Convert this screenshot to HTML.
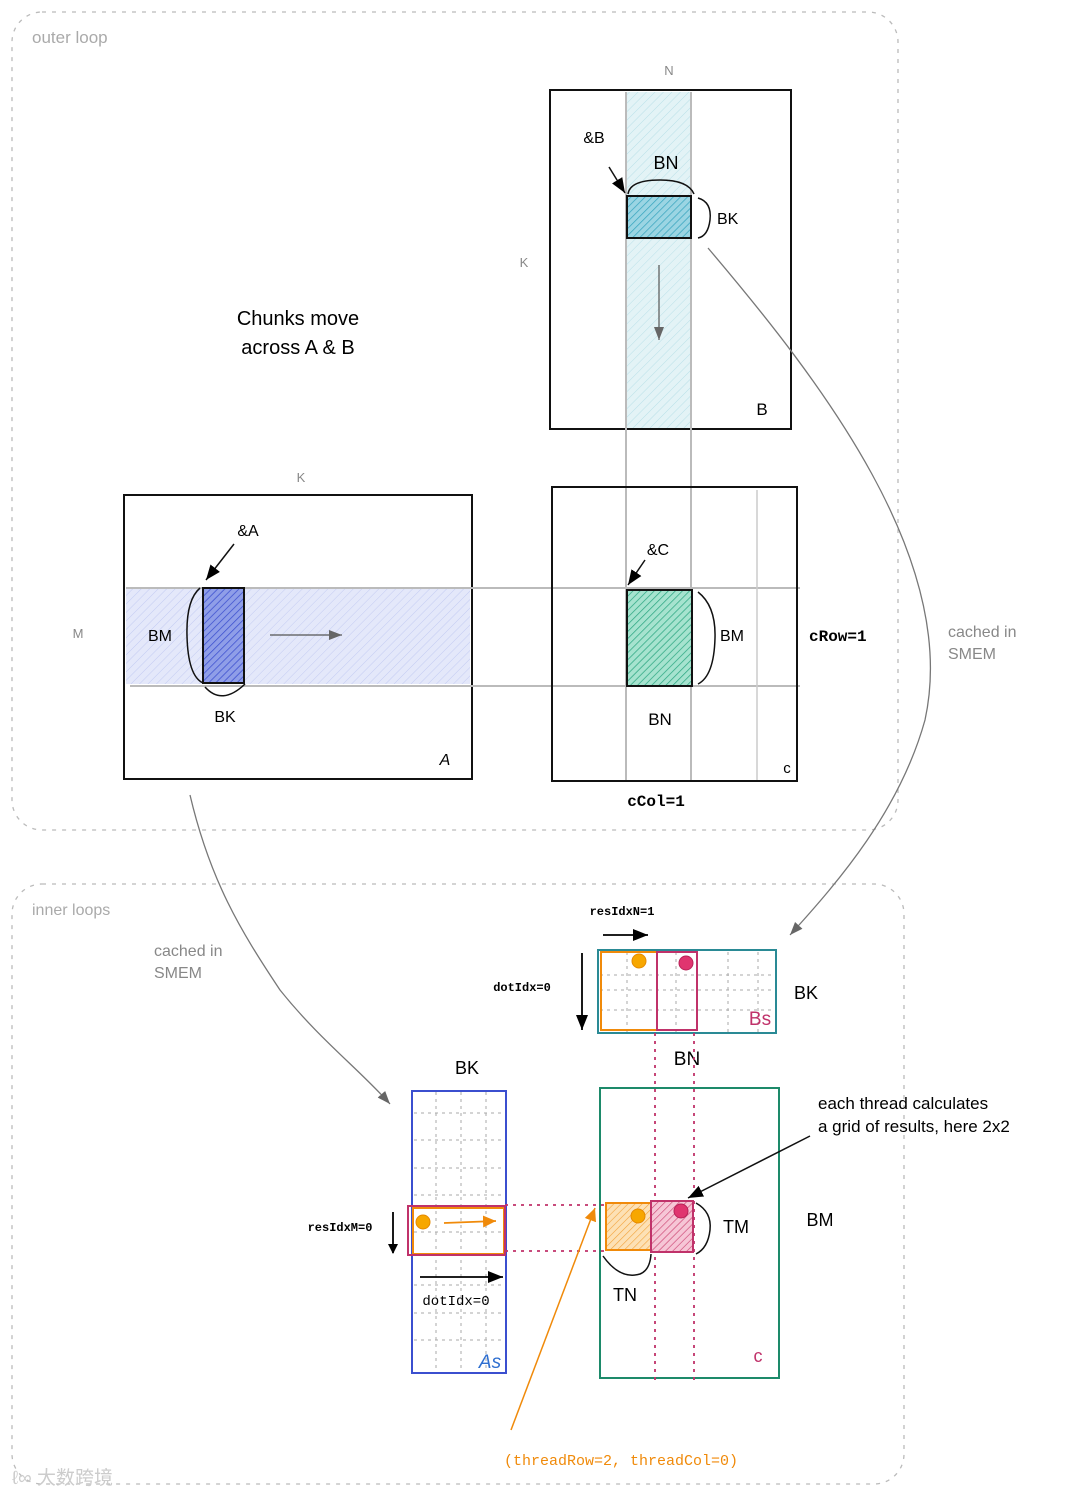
<!DOCTYPE html>
<html><head><meta charset="utf-8"><style>
html,body{margin:0;padding:0;background:#fff;}
svg{display:block;}
.h{font-family:"Liberation Sans","DejaVu Sans",sans-serif;}
.m{font-family:"Liberation Mono","DejaVu Sans Mono",monospace;}
</style></head><body>
<svg width="1080" height="1497" viewBox="0 0 1080 1497" xmlns="http://www.w3.org/2000/svg">
<defs>
<pattern id="hb" width="6" height="6" patternUnits="userSpaceOnUse" patternTransform="rotate(45)"><rect width="6" height="6" fill="#e3f3f6"/><line x1="0" y1="0" x2="0" y2="6" stroke="#b9e0e8" stroke-width="1"/></pattern>
<pattern id="ha" width="6" height="6" patternUnits="userSpaceOnUse" patternTransform="rotate(45)"><rect width="6" height="6" fill="#e4e8fa"/><line x1="0" y1="0" x2="0" y2="6" stroke="#c3cbf2" stroke-width="1"/></pattern>
<pattern id="hbc" width="5" height="5" patternUnits="userSpaceOnUse" patternTransform="rotate(45)"><rect width="5" height="5" fill="#9bd5e3"/><line x1="0" y1="0" x2="0" y2="5" stroke="#3aa6bf" stroke-width="1.5"/></pattern>
<pattern id="hac" width="5" height="5" patternUnits="userSpaceOnUse" patternTransform="rotate(45)"><rect width="5" height="5" fill="#8f9ee8"/><line x1="0" y1="0" x2="0" y2="5" stroke="#3b4fcf" stroke-width="1.5"/></pattern>
<pattern id="hcc" width="5" height="5" patternUnits="userSpaceOnUse" patternTransform="rotate(45)"><rect width="5" height="5" fill="#a6e3cf"/><line x1="0" y1="0" x2="0" y2="5" stroke="#2fa883" stroke-width="1.5"/></pattern>
<pattern id="ho" width="5" height="5" patternUnits="userSpaceOnUse" patternTransform="rotate(45)"><rect width="5" height="5" fill="#fde1b5"/><line x1="0" y1="0" x2="0" y2="5" stroke="#f2a23a" stroke-width="1.2"/></pattern>
<pattern id="hr" width="5" height="5" patternUnits="userSpaceOnUse" patternTransform="rotate(45)"><rect width="5" height="5" fill="#f6c6d6"/><line x1="0" y1="0" x2="0" y2="5" stroke="#c93c6c" stroke-width="1.2"/></pattern>
<marker id="ak" markerWidth="10" markerHeight="10" refX="9" refY="5" orient="auto" markerUnits="userSpaceOnUse"><path d="M0,0 L10,5 L0,10 Z" fill="#000"/></marker>
<marker id="ag" markerWidth="14" markerHeight="14" refX="13" refY="7" orient="auto" markerUnits="userSpaceOnUse"><path d="M0,2 L13,7 L0,12 Z" fill="#666"/></marker>
<marker id="ao" markerWidth="14" markerHeight="14" refX="13" refY="7" orient="auto" markerUnits="userSpaceOnUse"><path d="M0,1 L13,7 L0,13 Z" fill="#f08a0a"/></marker>
<marker id="ab" markerWidth="16" markerHeight="16" refX="15" refY="8" orient="auto" markerUnits="userSpaceOnUse"><path d="M0,2 L15,8 L0,14 Z" fill="#000"/></marker>
</defs>

<!-- loop frames -->
<rect x="12" y="12" width="886" height="818" rx="30" fill="none" stroke="#bbb" stroke-width="1.3" stroke-dasharray="4,6"/>
<rect x="12" y="884" width="892" height="600" rx="30" fill="none" stroke="#bbb" stroke-width="1.3" stroke-dasharray="4,6"/>
<text x="32" y="43" class="h" font-size="17" fill="#aaa">outer loop</text>
<text x="32" y="915" class="h" font-size="16" fill="#aaa">inner loops</text>

<text x="298" y="325" class="h" font-size="20" text-anchor="middle">Chunks move</text>
<text x="298" y="354" class="h" font-size="20" text-anchor="middle">across A &amp; B</text>

<!-- B matrix -->
<rect x="626" y="92" width="65" height="336" fill="url(#hb)"/>
<rect x="550" y="90" width="241" height="339" fill="none" stroke="#111" stroke-width="2"/>
<line x1="626" y1="92" x2="626" y2="782" stroke="#bbb" stroke-width="2"/>
<line x1="691" y1="92" x2="691" y2="782" stroke="#bbb" stroke-width="2"/>
<rect x="627" y="196" width="64" height="42" fill="url(#hbc)" stroke="#111" stroke-width="2"/>
<path d="M628,194 Q630,180 660,180 Q688,180 694,194" fill="none" stroke="#111" stroke-width="1.5"/>
<path d="M698,198 Q712,202 710,220 Q708,236 698,238" fill="none" stroke="#111" stroke-width="1.5"/>
<line x1="609" y1="167" x2="625" y2="193" stroke="#111" stroke-width="1.5" marker-end="url(#ab)"/>
<line x1="659" y1="265" x2="659" y2="340" stroke="#555" stroke-width="1.2" marker-end="url(#ag)"/>
<text x="594" y="143" class="h" font-size="16" text-anchor="middle">&amp;B</text>
<text x="666" y="169" class="h" font-size="18" text-anchor="middle">BN</text>
<text x="717" y="224" class="h" font-size="16">BK</text>
<text x="762" y="415" class="h" font-size="17" text-anchor="middle">B</text>
<text x="669" y="75" class="h" font-size="13" fill="#888" text-anchor="middle">N</text>
<text x="524" y="267" class="h" font-size="13" fill="#888" text-anchor="middle">K</text>

<!-- A matrix -->
<rect x="126" y="588" width="344" height="96" fill="url(#ha)"/>
<rect x="124" y="495" width="348" height="284" fill="none" stroke="#111" stroke-width="2"/>
<line x1="126" y1="588" x2="800" y2="588" stroke="#bbb" stroke-width="2"/>
<line x1="130" y1="686" x2="800" y2="686" stroke="#bbb" stroke-width="2"/>
<rect x="203" y="588" width="41" height="95" fill="url(#hac)" stroke="#111" stroke-width="2"/>
<path d="M200,588 Q186,600 187,636 Q188,676 203,683" fill="none" stroke="#111" stroke-width="1.5"/>
<path d="M205,687 Q222,706 245,684" fill="none" stroke="#111" stroke-width="1.5"/>
<line x1="234" y1="544" x2="206" y2="580" stroke="#111" stroke-width="1.5" marker-end="url(#ab)"/>
<line x1="270" y1="635" x2="342" y2="635" stroke="#555" stroke-width="1.2" marker-end="url(#ag)"/>
<text x="248" y="536" class="h" font-size="16" text-anchor="middle">&amp;A</text>
<text x="160" y="641" class="h" font-size="16" text-anchor="middle">BM</text>
<text x="225" y="722" class="h" font-size="16" text-anchor="middle">BK</text>
<text x="445" y="765" class="h" font-size="16" text-anchor="middle" font-style="italic">A</text>
<text x="301" y="482" class="h" font-size="13" fill="#888" text-anchor="middle">K</text>
<text x="78" y="638" class="h" font-size="13" fill="#888" text-anchor="middle">M</text>

<!-- C matrix -->
<rect x="552" y="487" width="245" height="294" fill="none" stroke="#111" stroke-width="2"/>
<line x1="757" y1="490" x2="757" y2="780" stroke="#ccc" stroke-width="1.5"/>
<rect x="627" y="590" width="65" height="96" fill="url(#hcc)" stroke="#111" stroke-width="2"/>
<path d="M698,592 Q716,606 715,638 Q714,676 698,684" fill="none" stroke="#111" stroke-width="1.5"/>
<line x1="645" y1="560" x2="628" y2="585" stroke="#111" stroke-width="1.5" marker-end="url(#ab)"/>
<text x="658" y="555" class="h" font-size="16" text-anchor="middle">&amp;C</text>
<text x="732" y="641" class="h" font-size="16" text-anchor="middle">BM</text>
<text x="660" y="725" class="h" font-size="17" text-anchor="middle">BN</text>
<text x="787" y="773" class="h" font-size="15" text-anchor="middle">c</text>
<text x="809" y="641" class="m" font-size="16" font-weight="bold">cRow=1</text>
<text x="656" y="806" class="m" font-size="16" font-weight="bold" text-anchor="middle">cCol=1</text>

<!-- curves -->
<path d="M708,248 C820,380 960,560 925,720 C900,810 840,880 790,935" fill="none" stroke="#777" stroke-width="1.3" marker-end="url(#ag)"/>
<text x="948" y="637" class="h" font-size="16" fill="#888">cached in</text>
<text x="948" y="659" class="h" font-size="16" fill="#888">SMEM</text>
<path d="M190,795 C210,880 240,930 280,990 C320,1040 360,1070 390,1104" fill="none" stroke="#777" stroke-width="1.3" marker-end="url(#ag)"/>
<text x="154" y="956" class="h" font-size="16" fill="#888">cached in</text>
<text x="154" y="978" class="h" font-size="16" fill="#888">SMEM</text>

<!-- Bs -->
<g stroke="#aaa" stroke-width="1" stroke-dasharray="3,4">
<line x1="600" y1="975" x2="776" y2="975"/><line x1="600" y1="990" x2="776" y2="990"/><line x1="600" y1="1010" x2="776" y2="1010"/>
<line x1="627" y1="952" x2="627" y2="1032"/><line x1="676" y1="952" x2="676" y2="1032"/><line x1="728" y1="952" x2="728" y2="1032"/><line x1="758" y1="952" x2="758" y2="1032"/>
</g>
<rect x="598" y="950" width="178" height="83" fill="none" stroke="#2a8a95" stroke-width="2"/>
<rect x="601" y="952" width="56" height="78" fill="none" stroke="#f08a0a" stroke-width="2"/>
<rect x="657" y="952" width="40" height="78" fill="none" stroke="#c0326a" stroke-width="2"/>
<circle cx="639" cy="961" r="7" fill="#f7a700" stroke="#e58a00"/>
<circle cx="686" cy="963" r="7" fill="#e0356f" stroke="#b82258"/>
<text x="760" y="1025" class="h" font-size="19" fill="#c0326a" text-anchor="middle">Bs</text>
<text x="806" y="999" class="h" font-size="18" text-anchor="middle">BK</text>
<text x="687" y="1065" class="h" font-size="19" text-anchor="middle">BN</text>
<text x="622" y="915" class="m" font-size="12" font-weight="bold" text-anchor="middle">resIdxN=1</text>
<line x1="603" y1="935" x2="648" y2="935" stroke="#000" stroke-width="1.8" marker-end="url(#ab)"/>
<text x="522" y="991" class="m" font-size="12" font-weight="bold" text-anchor="middle">dotIdx=0</text>
<line x1="582" y1="953" x2="582" y2="1030" stroke="#000" stroke-width="1.8" marker-end="url(#ab)"/>

<!-- As -->
<g stroke="#aaa" stroke-width="1" stroke-dasharray="3,4">
<line x1="414" y1="1113" x2="506" y2="1113"/><line x1="414" y1="1140" x2="506" y2="1140"/><line x1="414" y1="1168" x2="506" y2="1168"/><line x1="414" y1="1195" x2="506" y2="1195"/><line x1="414" y1="1232" x2="506" y2="1232"/><line x1="414" y1="1285" x2="506" y2="1285"/><line x1="414" y1="1313" x2="506" y2="1313"/><line x1="414" y1="1340" x2="506" y2="1340"/>
<line x1="436" y1="1092" x2="436" y2="1372"/><line x1="461" y1="1092" x2="461" y2="1372"/><line x1="486" y1="1092" x2="486" y2="1372"/>
</g>
<rect x="412" y="1091" width="94" height="282" fill="none" stroke="#3b4fcf" stroke-width="2"/>
<rect x="413" y="1208" width="91" height="46" fill="none" stroke="#f08a0a" stroke-width="2"/>
<rect x="408" y="1206" width="97" height="49" fill="none" stroke="#c0326a" stroke-width="2"/>
<circle cx="423" cy="1222" r="7" fill="#f7a700" stroke="#e58a00"/>
<line x1="444" y1="1223" x2="496" y2="1221" stroke="#f08a0a" stroke-width="1.8" marker-end="url(#ao)"/>
<text x="467" y="1074" class="h" font-size="18" text-anchor="middle">BK</text>
<text x="490" y="1368" class="h" font-size="19" fill="#2f6fd0" text-anchor="middle" font-style="italic">As</text>
<text x="340" y="1231" class="m" font-size="12" font-weight="bold" text-anchor="middle">resIdxM=0</text>
<line x1="393" y1="1212" x2="393" y2="1253" stroke="#000" stroke-width="1.8" marker-end="url(#ak)"/>
<line x1="420" y1="1277" x2="503" y2="1277" stroke="#000" stroke-width="1.8" marker-end="url(#ab)"/>
<text x="456" y="1305" class="m" font-size="14" text-anchor="middle">dotIdx=0</text>

<!-- C small -->
<rect x="600" y="1088" width="179" height="290" fill="none" stroke="#1d8a6a" stroke-width="2"/>
<g stroke="#c0326a" stroke-width="1.8" stroke-dasharray="3,5">
<line x1="655" y1="1033" x2="655" y2="1380"/><line x1="694" y1="1033" x2="694" y2="1380"/>
<line x1="505" y1="1205" x2="605" y2="1205"/><line x1="505" y1="1251" x2="605" y2="1251"/>
</g>
<rect x="606" y="1203" width="45" height="47" fill="url(#ho)" stroke="#f08a0a" stroke-width="2"/>
<rect x="651" y="1201" width="42" height="51" fill="url(#hr)" stroke="#c0326a" stroke-width="2"/>
<circle cx="638" cy="1216" r="7" fill="#f7a700" stroke="#e58a00"/>
<circle cx="681" cy="1211" r="7" fill="#e0356f" stroke="#b82258"/>
<path d="M696,1203 Q712,1212 710,1230 Q708,1248 696,1254" fill="none" stroke="#111" stroke-width="1.5"/>
<path d="M603,1256 Q620,1280 640,1274 Q650,1270 651,1254" fill="none" stroke="#111" stroke-width="1.5"/>
<text x="736" y="1233" class="h" font-size="18" text-anchor="middle">TM</text>
<text x="625" y="1301" class="h" font-size="18" text-anchor="middle">TN</text>
<text x="820" y="1226" class="h" font-size="18" text-anchor="middle">BM</text>
<text x="758" y="1362" class="h" font-size="18" fill="#c0326a" text-anchor="middle">c</text>
<line x1="810" y1="1136" x2="688" y2="1198" stroke="#111" stroke-width="1.5" marker-end="url(#ab)"/>
<text x="818" y="1109" class="h" font-size="17">each thread calculates</text>
<text x="818" y="1132" class="h" font-size="17">a grid of results, here 2x2</text>
<line x1="511" y1="1430" x2="595" y2="1208" stroke="#f08a0a" stroke-width="1.5" marker-end="url(#ao)"/>
<text x="621" y="1465" class="m" font-size="15" fill="#f08a0a" text-anchor="middle">(threadRow=2, threadCol=0)</text>

<text x="12" y="1484" class="h" font-size="19" fill="#ccc">ℓ∞ 大数跨境</text>
</svg>
</body></html>
